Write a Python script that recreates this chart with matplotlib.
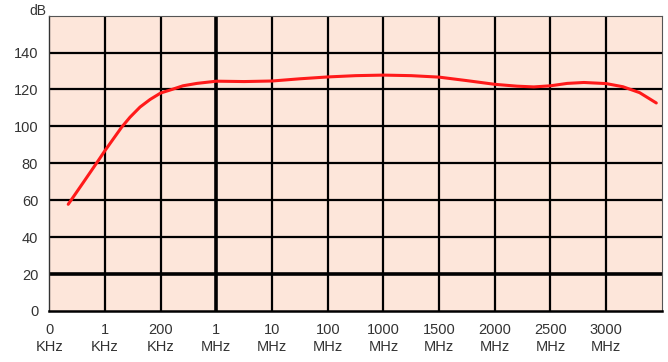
import numpy as np
import matplotlib.pyplot as plt

# tick labels along the frequency axis (one per grid column)
freq_labels = ['0\nKHz', '1\nKHz', '200\nKHz', '1\nMHz', '10\nMHz', '100\nMHz',
               '1000\nMHz', '1500\nMHz', '2000\nMHz', '2500\nMHz', '3000\nMHz']
db_ticks = [0, 20, 40, 60, 80, 100, 120, 140]

# curve: position in grid columns, level in dB
curve_pos = [0.34, 0.61, 0.88, 1.0, 1.3, 1.45, 1.63, 1.81, 2.0, 2.2, 2.4,
             2.65, 3.0, 3.5, 4.0, 4.5, 5.0, 5.5, 6.0, 6.5, 7.0, 7.5, 8.0,
             8.4, 8.7, 9.0, 9.3, 9.6, 10.0, 10.3, 10.6, 10.9]
curve_db = [57.8, 69.6, 81.5, 86.9, 99.6, 105.0, 110.5, 114.6, 118.1, 120.0,
            122.0, 123.3, 124.5, 124.3, 124.6, 125.8, 126.8, 127.5, 127.8,
            127.5, 126.7, 124.8, 122.8, 121.8, 121.4, 122.0, 123.3, 123.8,
            123.2, 121.5, 118.3, 112.7]

plt.rcParams['font.family'] = ['Liberation Sans', 'DejaVu Sans']

fig = plt.figure(figsize=(6.68, 3.62), dpi=100)
ax = fig.add_axes([0.0738, 0.141, 0.917, 0.8157])
ax.set_facecolor('#fde6da')

ax.set_xlim(0, len(freq_labels))
ax.set_ylim(0, 160)

# grid
for i in range(1, len(freq_labels)):
    lw = 2.6 if i == 3 else 1.6
    ax.axvline(i, color='black', lw=lw, zorder=1)
for v in db_ticks[1:]:
    lw = 2.6 if v == 20 else 1.6
    ax.axhline(v, color='black', lw=lw, zorder=1)

ax.plot(curve_pos, curve_db, color='#ff1a1a', lw=2.2, solid_capstyle='round',
        solid_joinstyle='round', zorder=3)

ax.set_xticks(range(len(freq_labels)))
ax.set_xticklabels(freq_labels, fontsize=10.5, color='#333333', linespacing=1.25)
ax.set_yticks(db_ticks)
ax.set_yticklabels([str(v) for v in db_ticks], fontsize=10.5, color='#333333')
ax.tick_params(axis='y', length=0, pad=8)
ax.tick_params(axis='x', length=0, pad=9)

for side in ['top', 'right']:
    ax.spines[side].set_color('#555555')
    ax.spines[side].set_linewidth(0.8)
ax.spines['left'].set_color('#333333')
ax.spines['left'].set_linewidth(1.0)
ax.spines['bottom'].set_color('black')
ax.spines['bottom'].set_linewidth(1.8)

fig.text(38 / 668, 1 - 11 / 362, 'dB', fontsize=10, color='#333333',
         ha='center', va='center')

fig.savefig('out.png', dpi=100)
